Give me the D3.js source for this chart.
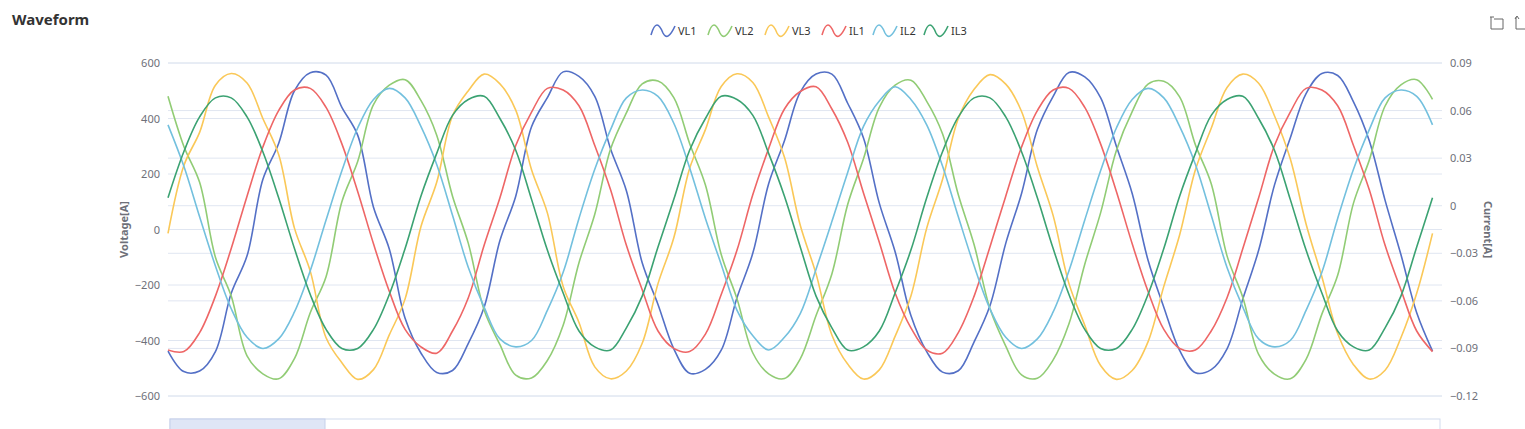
<!DOCTYPE html>
<html>
<head>
<meta charset="utf-8">
<script src="https://cdn.jsdelivr.net/npm/d3@7"></script>
<style>
  body { margin: 0; background: #fff; font-family: "Noto Sans", sans-serif; }
  svg { display: block; }
</style>
</head>
<body>
<svg id="chart" width="1525" height="429"></svg>
<script>
// series samples, 16 per cycle
var VL1 = [-438,-512,-510,-440,-230,-95,180,310,500,565,556,440,340,80,-70,-320,
  -445,-515,-508,-410,-280,-40,120,370,475,568,552,480,290,140,-120,-270,
  -430,-518,-504,-435,-245,-85,165,320,495,560,560,455,330,95,-80,-310,
  -440,-514,-509,-405,-275,-50,130,360,480,566,550,475,300,130,-110,-280,
  -436,-516,-505,-430,-250,-75,160,330,490,562,555,460,320,105,-90,-300,-438];
var VL2 = [480,300,170,-100,-240,-455,-520,-538,-465,-300,-170,100,245,450,520,540,
  465,340,120,-50,-290,-415,-525,-535,-472,-345,-120,55,290,420,525,535,
  475,310,160,-90,-250,-445,-520,-537,-466,-310,-160,90,255,440,520,538,
  462,345,125,-55,-285,-420,-524,-536,-470,-340,-125,60,285,425,524,534,
  478,305,165,-95,-245,-450,-521,-538,-468,-305,-165,95,250,445,521,540,469];
var VL3 = [-14,230,350,520,562,528,400,270,5,-150,-390,-480,-540,-505,-380,-250,
  10,170,410,500,560,525,430,215,60,-205,-335,-495,-538,-510,-410,-195,
  -30,220,360,515,561,530,405,260,15,-160,-380,-485,-539,-506,-385,-240,
  5,180,400,505,558,524,425,225,50,-195,-345,-490,-540,-508,-405,-205,
  -20,215,365,512,560,527,410,255,20,-170,-375,-487,-539,-507,-390,-230,-14];
var IL1 = [-0.091,-0.092,-0.080,-0.057,-0.027,0.006,0.037,0.060,0.073,0.074,0.062,0.039,0.009,-0.024,-0.054,-0.078,
  -0.089,-0.093,-0.079,-0.058,-0.025,0.005,0.038,0.059,0.074,0.073,0.063,0.038,0.010,-0.025,-0.053,-0.079,
  -0.090,-0.092,-0.081,-0.056,-0.028,0.007,0.036,0.061,0.072,0.075,0.061,0.040,0.008,-0.023,-0.055,-0.077,
  -0.091,-0.093,-0.080,-0.057,-0.026,0.006,0.037,0.060,0.073,0.074,0.062,0.039,0.009,-0.024,-0.054,-0.078,
  -0.090,-0.091,-0.079,-0.058,-0.027,0.005,0.038,0.059,0.074,0.073,0.063,0.038,0.010,-0.025,-0.053,-0.079,-0.092];
var IL2 = [0.051,0.025,-0.007,-0.038,-0.065,-0.083,-0.090,-0.084,-0.067,-0.041,-0.009,0.022,0.049,0.067,0.074,0.068,
  0.050,0.026,-0.006,-0.039,-0.064,-0.084,-0.089,-0.085,-0.066,-0.042,-0.008,0.023,0.048,0.068,0.073,0.069,
  0.052,0.024,-0.008,-0.037,-0.066,-0.082,-0.091,-0.083,-0.068,-0.040,-0.010,0.021,0.050,0.066,0.075,0.067,
  0.051,0.025,-0.007,-0.038,-0.065,-0.083,-0.090,-0.084,-0.067,-0.041,-0.009,0.022,0.049,0.067,0.074,0.068,
  0.050,0.026,-0.006,-0.039,-0.064,-0.084,-0.089,-0.085,-0.066,-0.042,-0.008,0.023,0.048,0.068,0.073,0.069,0.051];
var IL3 = [0.005,0.034,0.056,0.068,0.068,0.056,0.034,0.005,-0.027,-0.056,-0.078,-0.090,-0.090,-0.078,-0.056,-0.027,
  0.006,0.033,0.057,0.067,0.069,0.055,0.035,0.004,-0.028,-0.055,-0.079,-0.089,-0.091,-0.077,-0.057,-0.026,
  0.004,0.035,0.055,0.069,0.067,0.057,0.033,0.006,-0.026,-0.057,-0.077,-0.091,-0.089,-0.079,-0.055,-0.028,
  0.005,0.034,0.056,0.068,0.068,0.056,0.034,0.005,-0.027,-0.056,-0.078,-0.090,-0.090,-0.078,-0.056,-0.027,
  0.006,0.033,0.057,0.067,0.069,0.055,0.035,0.004,-0.028,-0.055,-0.079,-0.089,-0.091,-0.077,-0.057,-0.026,0.005];

var seriesNames = ["VL1", "VL2", "VL3", "IL1", "IL2", "IL3"];
var seriesData = [VL1, VL2, VL3, IL1, IL2, IL3];
var seriesAxis = ["left", "left", "left", "right", "right", "right"];
var colors = ["#5470c6", "#91cc75", "#fac858", "#ee6666", "#73c0de", "#3ba272"];
var voltTicks = [-600, -400, -200, 0, 200, 400, 600];
var currTicks = [-0.12, -0.09, -0.06, -0.03, 0, 0.03, 0.06, 0.09];

var svg = d3.select("#chart"),
    margin = {top: 63, right: 83, bottom: 33, left: 168},
    width = +svg.attr("width") - margin.left - margin.right,
    height = +svg.attr("height") - margin.top - margin.bottom,
    g = svg.append("g").attr("transform", "translate(" + margin.left + "," + margin.top + ")");

var xScale = d3.scaleLinear().domain([0, 80.6]).range([0, width]),
    yLeft = d3.scaleLinear().domain([-600, 600]).range([height, 0]),
    yRight = d3.scaleLinear().domain([-0.12, 0.09]).range([height, 0]);

// grid lines from both axes
g.selectAll(".gl").data(voltTicks).enter().append("line")
  .attr("x1", 0).attr("x2", width)
  .attr("y1", function(d) { return yLeft(d); }).attr("y2", function(d) { return yLeft(d); })
  .attr("stroke", "#e0e6f1");
g.selectAll(".gr").data(currTicks).enter().append("line")
  .attr("x1", 0).attr("x2", width)
  .attr("y1", function(d) { return yRight(d); }).attr("y2", function(d) { return yRight(d); })
  .attr("stroke", "#e0e6f1");

var axL = g.append("g")
  .call(d3.axisLeft(yLeft).tickValues(voltTicks).tickSize(0).tickPadding(8));
var axR = g.append("g").attr("transform", "translate(" + width + ",0)")
  .call(d3.axisRight(yRight).tickValues(currTicks).tickSize(0).tickPadding(8)
    .tickFormat(function(d) { return d3.format(".2~f")(d); }));
[axL, axR].forEach(function(a) {
  a.select(".domain").remove();
  a.selectAll("text").attr("fill", "#6e7079").style("font-size", "11px").style("font-family", "Noto Sans, sans-serif");
});

g.append("text").attr("transform", "translate(-40," + (height / 2) + ") rotate(-90)")
  .attr("text-anchor", "middle").attr("fill", "#6e7079")
  .style("font-size", "11px").style("font-weight", "bold").text("Voltage[A]");
g.append("text").attr("transform", "translate(" + (width + 42) + "," + (height / 2) + ") rotate(90)")
  .attr("text-anchor", "middle").attr("fill", "#6e7079")
  .style("font-size", "11px").style("font-weight", "bold").text("Current[A]");

var lines = g.selectAll(".series").data(seriesData).enter().append("path")
  .attr("fill", "none")
  .attr("stroke-width", 1.6)
  .attr("stroke", function(d, i) { return colors[i]; })
  .attr("d", function(d, i) {
    var ys = seriesAxis[i] == "left" ? yLeft : yRight;
    return d3.line().curve(d3.curveCatmullRom)
      .x(function(v, j) { return xScale(j); })
      .y(function(v) { return ys(v); })(d);
  });

// title
svg.append("text").attr("x", 12).attr("y", 25).attr("fill", "#333")
  .style("font-size", "15px").style("font-weight", "bold").text("Waveform");

// legend
var legend = svg.append("g").attr("transform", "translate(651,31)");
var lx = 0;
seriesNames.forEach(function(name, i) {
  var it = legend.append("g").attr("transform", "translate(" + lx + ",0)");
  it.append("path").attr("d", "M0,4 C4,-10 8,-8 12,2 C15,8 19,6 24,-5")
    .attr("fill", "none").attr("stroke", colors[i]).attr("stroke-width", 1.6);
  it.append("text").attr("x", 27).attr("y", 4).attr("fill", "#333")
    .style("font-size", "11px").text(name);
  lx += name.length == 3 && name[0] == "V" ? 57 : 51;
});

// toolbox icons
var tb = svg.append("g").attr("fill", "none").attr("stroke", "#666").attr("stroke-width", 1);
tb.append("path").attr("d", "M1491,17 v12 h12 M1490,17 h4 M1503,29 v-10 h-9");
tb.append("path").attr("d", "M1516,17 v12 h9 M1515,19 l2,-3 l2,3");

// data zoom slider
svg.append("rect").attr("x", 170).attr("y", 419).attr("width", 1270).attr("height", 20)
  .attr("fill", "none").attr("stroke", "#d2dbee");
svg.append("rect").attr("x", 170).attr("y", 419).attr("width", 155).attr("height", 20)
  .attr("fill", "#dfe6f6").attr("stroke", "#c5d0ea");
</script>
</body>
</html>
